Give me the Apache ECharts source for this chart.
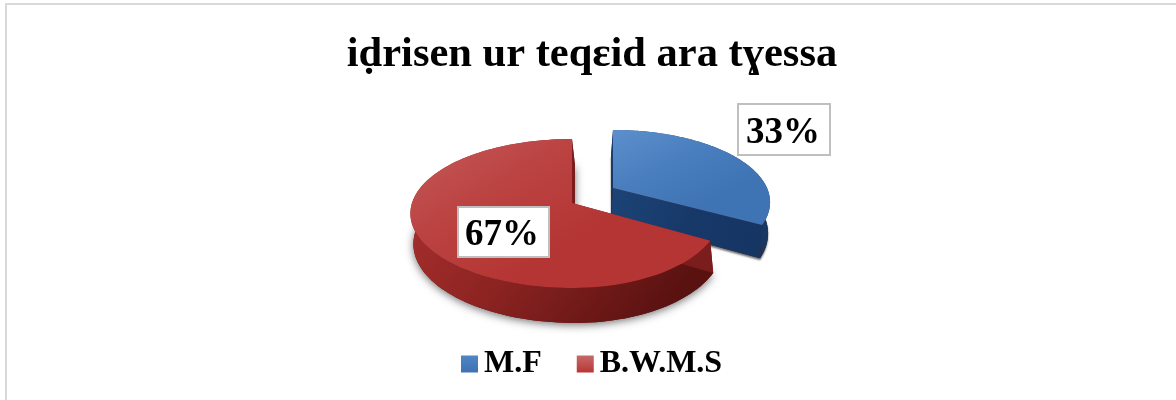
<!DOCTYPE html>
<html>
<head>
<meta charset="utf-8">
<style>html,body{margin:0;padding:0;background:#fff}#c{width:1176px;height:400px}</style>
<script src="https://cdn.jsdelivr.net/npm/echarts@6/dist/echarts.min.js"></script>
</head>
<body>
<div id="c"></div>
<script>
var titleText = 'iḍrisen ur teqɛid ara tɣessa';
var categories = ['M.F', 'B.W.M.S'];
var shares = [33, 67];
var labels = ['33%', '67%'];

var total = shares[0] + shares[1];
var FONT = '"Liberation Serif","Times New Roman",serif';
var DEPTH = 30;

function grad(x, y, x2, y2, stops) {
  return {type: 'linear', x: x, y: y, x2: x2, y2: y2,
    colorStops: stops.map(function (c, i) { return {offset: i / (stops.length - 1), color: c}; })};
}
var looks = [
  {apex: [613, 188], dx: -2, shadow: 2, rxL: 154, rxR: 154, ry: 69.5, k: 0.197,
   top: grad(0, 0, 0.3, 1, ['#5c8fcb', '#4a7fbf', '#3f74b4']),
   wall: grad(0, 0, 1, 1, ['#234f86', '#1d4475', '#16355e']),
   cut: grad(0, 0, 1, 1, ['#1c4476', '#17396a', '#153562']),
   legend: grad(0, 0, 0, 1, ['#4f86c6', '#3e72b2']),
   box: [738, 104, 92, 51], text: [783, 133]},
  {apex: [572, 203], dx: 3, shadow: 9, rxL: 160, rxR: 147, ry: 73, k: 0.141,
   top: grad(0, 0, 0.3, 1, ['#c45a58', '#bb4342', '#b43533']),
   wall: grad(0, 0, 0.8, 1, ['#b03331', '#8d2422', '#5a1211']),
   cut: grad(0, 0, 1, 1, ['#7a1d1c', '#7a1d1c']),
   legend: grad(0, 0, 0, 1, ['#c66a68', '#b93634']),
   box: [458, 207, 91, 50], text: [502, 235]}
];

function rim(look, theta, low) {
  var f = 1 / (1 + look.k * Math.cos(theta));
  var sn = Math.sin(theta);
  var x = look.apex[0] + (sn > 0 ? look.rxR : look.rxL) * sn * f;
  var y = look.apex[1] - look.ry * Math.cos(theta) * f;
  return low ? [x + look.dx, y + DEPTH * f] : [x, y];
}
function apexAt(look, low) {
  return low ? [look.apex[0] + look.dx, look.apex[1] + DEPTH] : [look.apex[0], look.apex[1]];
}

function sliceRenderer(index) {
  return function (params, api) {
    var before = 0;
    for (var i = 0; i < index; i++) before += shares[i];
    var look = looks[index];
    var a0 = before / total * Math.PI * 2;
    var a1 = (before + api.value(0)) / total * Math.PI * 2;
    var steps = 120, upper = [], lower = [];
    for (var s = 0; s <= steps; s++) {
      var t = a0 + (a1 - a0) * s / steps;
      upper.push(rim(look, t, false));
      lower.push(rim(look, t, true));
    }
    var disk = [apexAt(look, false)].concat(upper);
    var base = [apexAt(look, true)].concat(lower);
    var wall = upper.concat(lower.slice().reverse());
    var cutEnd = [apexAt(look, false), upper[steps], lower[steps], apexAt(look, true)];
    var cutStart = [apexAt(look, false), upper[0], lower[0], apexAt(look, true)];
    return {
      type: 'group',
      children: [
        {type: 'polygon', shape: {points: base},
         style: {fill: '#5a1211', shadowBlur: look.shadow, shadowColor: 'rgba(0,0,0,0.55)', shadowOffsetY: 2}},
        {type: 'polygon', shape: {points: wall}, style: {fill: look.wall}},
        {type: 'polygon', shape: {points: cutEnd}, style: {fill: look.cut}},
        {type: 'polygon', shape: {points: cutStart}, style: {fill: look.cut}},
        {type: 'polygon', shape: {points: disk}, style: {fill: look.top}},
        {type: 'rect', z2: 49, shape: {x: look.box[0], y: look.box[1], width: look.box[2], height: look.box[3]},
         style: {fill: '#fff', stroke: '#bfbfbf', lineWidth: 2}},
        {type: 'text', z2: 50, style: {
          text: labels[index], x: look.text[0], y: look.text[1],
          align: 'center', verticalAlign: 'middle',
          font: 'bold 37px ' + FONT, fill: '#000'
        }}
      ]
    };
  };
}

var chart = echarts.init(document.getElementById('c'), null, {renderer: 'canvas'});
chart.setOption({
  animation: false,
  backgroundColor: '#fff',
  title: {
    text: titleText, left: 587, top: 29, textAlign: 'center',
    textStyle: {fontFamily: FONT, fontWeight: 'bold', fontSize: 42.5, color: '#000'}
  },
  legend: {
    left: 456, top: 343, icon: 'rect', itemWidth: 17, itemHeight: 17, itemGap: 35,
    textStyle: {fontFamily: FONT, fontWeight: 'bold', fontSize: 32, color: '#000', padding: [0, 0, 0, 1]},
    data: categories.map(function (c, i) { return {name: c, itemStyle: {color: looks[i].legend}}; })
  },
  graphic: [
    {type: 'line', silent: true, z: -1, shape: {x1: 6, y1: 400, x2: 6, y2: 4}, style: {stroke: '#d9d9d9', lineWidth: 2}},
    {type: 'line', silent: true, z: -1, shape: {x1: 5, y1: 4, x2: 1176, y2: 4}, style: {stroke: '#d9d9d9', lineWidth: 2}}
  ],
  series: categories.map(function (c, i) {
    return {
      type: 'custom', name: c, coordinateSystem: 'none',
      z: i === 0 ? 2 : 3,
      data: [[shares[i]]],
      itemStyle: {color: looks[i].legend},
      renderItem: sliceRenderer(i)
    };
  })
});
</script>
</body>
</html>
